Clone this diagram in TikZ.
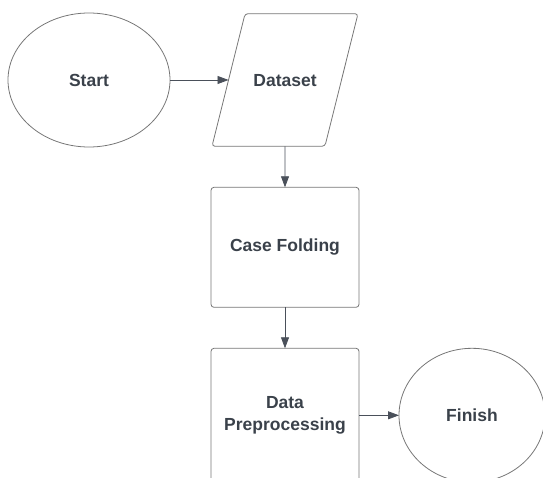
\documentclass[tikz,border=0pt]{standalone}
\usepackage{fontspec}
\setsansfont{Liberation Sans}
\usetikzlibrary{shapes.geometric, positioning, arrows.meta}

\definecolor{borde}{HTML}{767676}
\definecolor{flecha}{HTML}{4A505A}
\definecolor{texto}{HTML}{3A414A}

\begin{document}
\begin{tikzpicture}[x=1pt, y=1pt, node distance=41pt, line width=0.8pt,
                  every node/.style={font=\sffamily\bfseries\fontsize{17.5}{22}\selectfont,
                  text=texto, outer sep=0pt},
                  terminal/.style={draw=borde, ellipse, minimum height=134pt},
                  datos/.style={draw=borde, trapezium, trapezium left angle=76,
                  trapezium right angle=104, trapezium stretches body,
                  text height=12.6pt, text depth=0pt, inner ysep=60pt,
                  minimum width=146pt, rounded corners=3pt},
                  proceso/.style={draw=borde, rectangle, rounded corners=3pt,
                  minimum width=148pt, align=center},
                  flujo/.style={draw=flecha, -{Triangle[length=11pt, width=8pt]}}]

                  % Fijamos el marco de la imagen.
                  \useasboundingbox (0,0) rectangle (543,-478);
                  \clip (0,0) rectangle (543,-478);

                  % Asignamos los bloques del diagrama.
                  \node[terminal, minimum width=162pt] (start) at (89,-80) {Start};
                  \node[datos] (dataset) at (285,-80) {Dataset};
                  \node[proceso, minimum height=120pt, below=of dataset] (casefold) {Case Folding};
                  \node[proceso, minimum height=134pt, below=of casefold] (prep) {Data\\Preprocessing};
                  \node[terminal, minimum width=146pt, right=40pt of prep] (finish) {Finish};

                  % Dibujamos las flechas entre bloques.
                  \draw[flujo] (start) -- (dataset);
                  \draw[flujo] (dataset) -- (casefold);
                  \draw[flujo] (casefold) -- (prep);
                  \draw[flujo] (prep) -- (finish);

\end{tikzpicture}
\end{document}
